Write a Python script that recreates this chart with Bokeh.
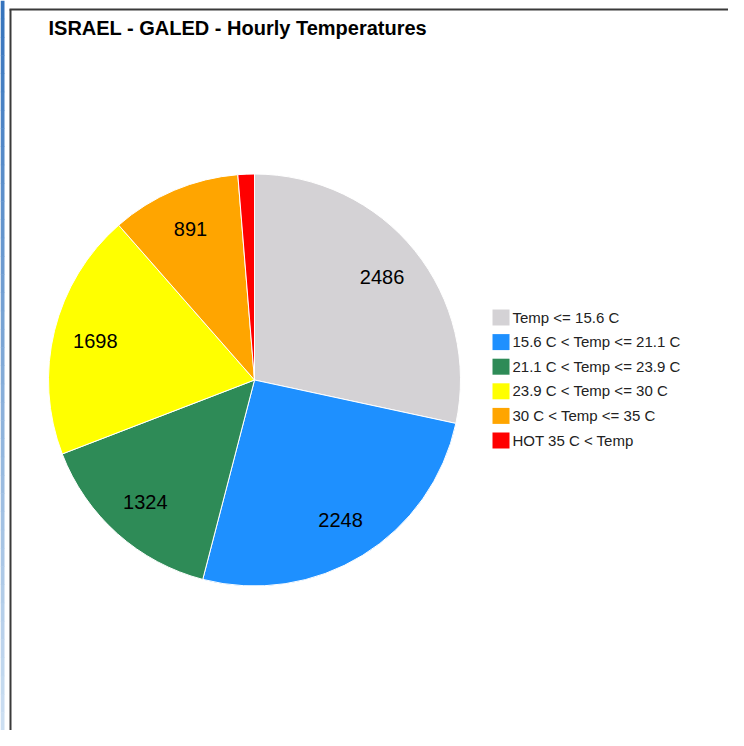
import math
from bokeh.plotting import figure
from bokeh.models import ColumnDataSource, Range1d
from bokeh.core.properties import value
from bokeh.embed import file_html
from bokeh.resources import INLINE

# ---- data ----
title_text = "ISRAEL - GALED - Hourly Temperatures"
categories = [
    "Temp <= 15.6 C",
    "15.6 C < Temp <= 21.1 C",
    "21.1 C < Temp <= 23.9 C",
    "23.9 C < Temp <= 30 C",
    "30 C < Temp <= 35 C",
    "HOT 35 C < Temp",
]
hours = [2486, 2248, 1324, 1698, 891, 113]
colors = ["#d4d2d5", "#1e90ff", "#2e8b57", "#ffff00", "#ffa500", "#ff0000"]
show_label = [True, True, True, True, True, False]

# ---- layout (screen pixels of the picture) ----
W, H = 728, 730


def X(sx):
    return sx


def Y(sy):
    return H - sy


CX, CY, R = 254, 379.5, 206
LABEL_R = 164

p = figure(width=W, height=H, x_range=Range1d(0, W), y_range=Range1d(0, H),
           output_backend="svg", toolbar_location=None, min_border=0)
p.axis.visible = False
p.grid.visible = False
p.outline_line_color = None
p.background_fill_color = "white"
p.border_fill_color = "white"

# window-edge decoration: blue gradient strip on the left
N = 40
top_c = (0x36, 0x74, 0xbd)
bot_c = (0xcc, 0xdf, 0xf2)
strip_cols, strip_top, strip_bot = [], [], []
for i in range(N):
    t = i / (N - 1)
    c = tuple(int(round(a + (b - a) * t)) for a, b in zip(top_c, bot_c))
    strip_cols.append("#%02x%02x%02x" % c)
    strip_top.append(Y(i * H / N))
    strip_bot.append(Y((i + 1) * H / N) - 0.5)
p.quad(left=X(0), right=X(4), top=strip_top, bottom=strip_bot,
       fill_color=strip_cols, line_color=None)

total = float(sum(hours))
starts, ends, lx, ly, ltxt = [], [], [], [], []
cum = 0.0
for v, show in zip(hours, show_label):
    a0 = cum / total
    a1 = (cum + v) / total
    starts.append(math.pi / 2 - a0 * 2 * math.pi)
    ends.append(math.pi / 2 - a1 * 2 * math.pi)
    mid = (a0 + a1) / 2 * 2 * math.pi
    if show:
        lx.append(X(CX + math.sin(mid) * LABEL_R))
        ly.append(Y(CY - math.cos(mid) * LABEL_R))
        ltxt.append(str(v))
    cum += v

src = ColumnDataSource(dict(start=starts, end=ends, color=colors,
                            x=[X(CX)] * len(hours), y=[Y(CY)] * len(hours)))
p.wedge(x="x", y="y", radius=R, radius_units="screen", start_angle="start",
        end_angle="end", direction="clock", fill_color="color",
        line_color="white", line_width=1, source=src)

p.text(x=lx, y=ly, text=ltxt, text_font=value("Liberation Sans"),
       text_font_size="20px", text_align="center", text_baseline="alphabetic",
       text_color="#000000")

# title
p.text(x=[X(48)], y=[Y(27)], text=[title_text],
       text_font=value("Liberation Sans"), text_font_style="bold",
       text_font_size="20px", text_align="left", text_baseline="alphabetic",
       text_color="#000000")

# legend
LEG_X, LEG_Y0, LEG_STEP = 492, 317, 24.6
sw_x = [X(LEG_X + 8.5)] * len(categories)
sw_y = [Y(LEG_Y0 + i * LEG_STEP) for i in range(len(categories))]
p.rect(x=sw_x, y=sw_y, width=17, height=16, width_units="screen",
       height_units="screen", fill_color=colors, line_color=None)
p.text(x=[X(512)] * len(categories), y=[y + 0.5 for y in sw_y],
       text=categories, text_font=value("Liberation Sans"),
       text_font_size="15px", text_align="left", text_baseline="alphabetic",
       text_color="#222222")

# frame lines (left and top)
p.segment(x0=[X(10)], y0=[Y(9)], x1=[X(10)], y1=[Y(H)],
          line_color="#3a3a3a", line_width=2)
p.segment(x0=[X(9)], y0=[Y(9)], x1=[X(W)], y1=[Y(9)],
          line_color="#3a3a3a", line_width=2)

open("out.html", "w").write(file_html(p, INLINE))
